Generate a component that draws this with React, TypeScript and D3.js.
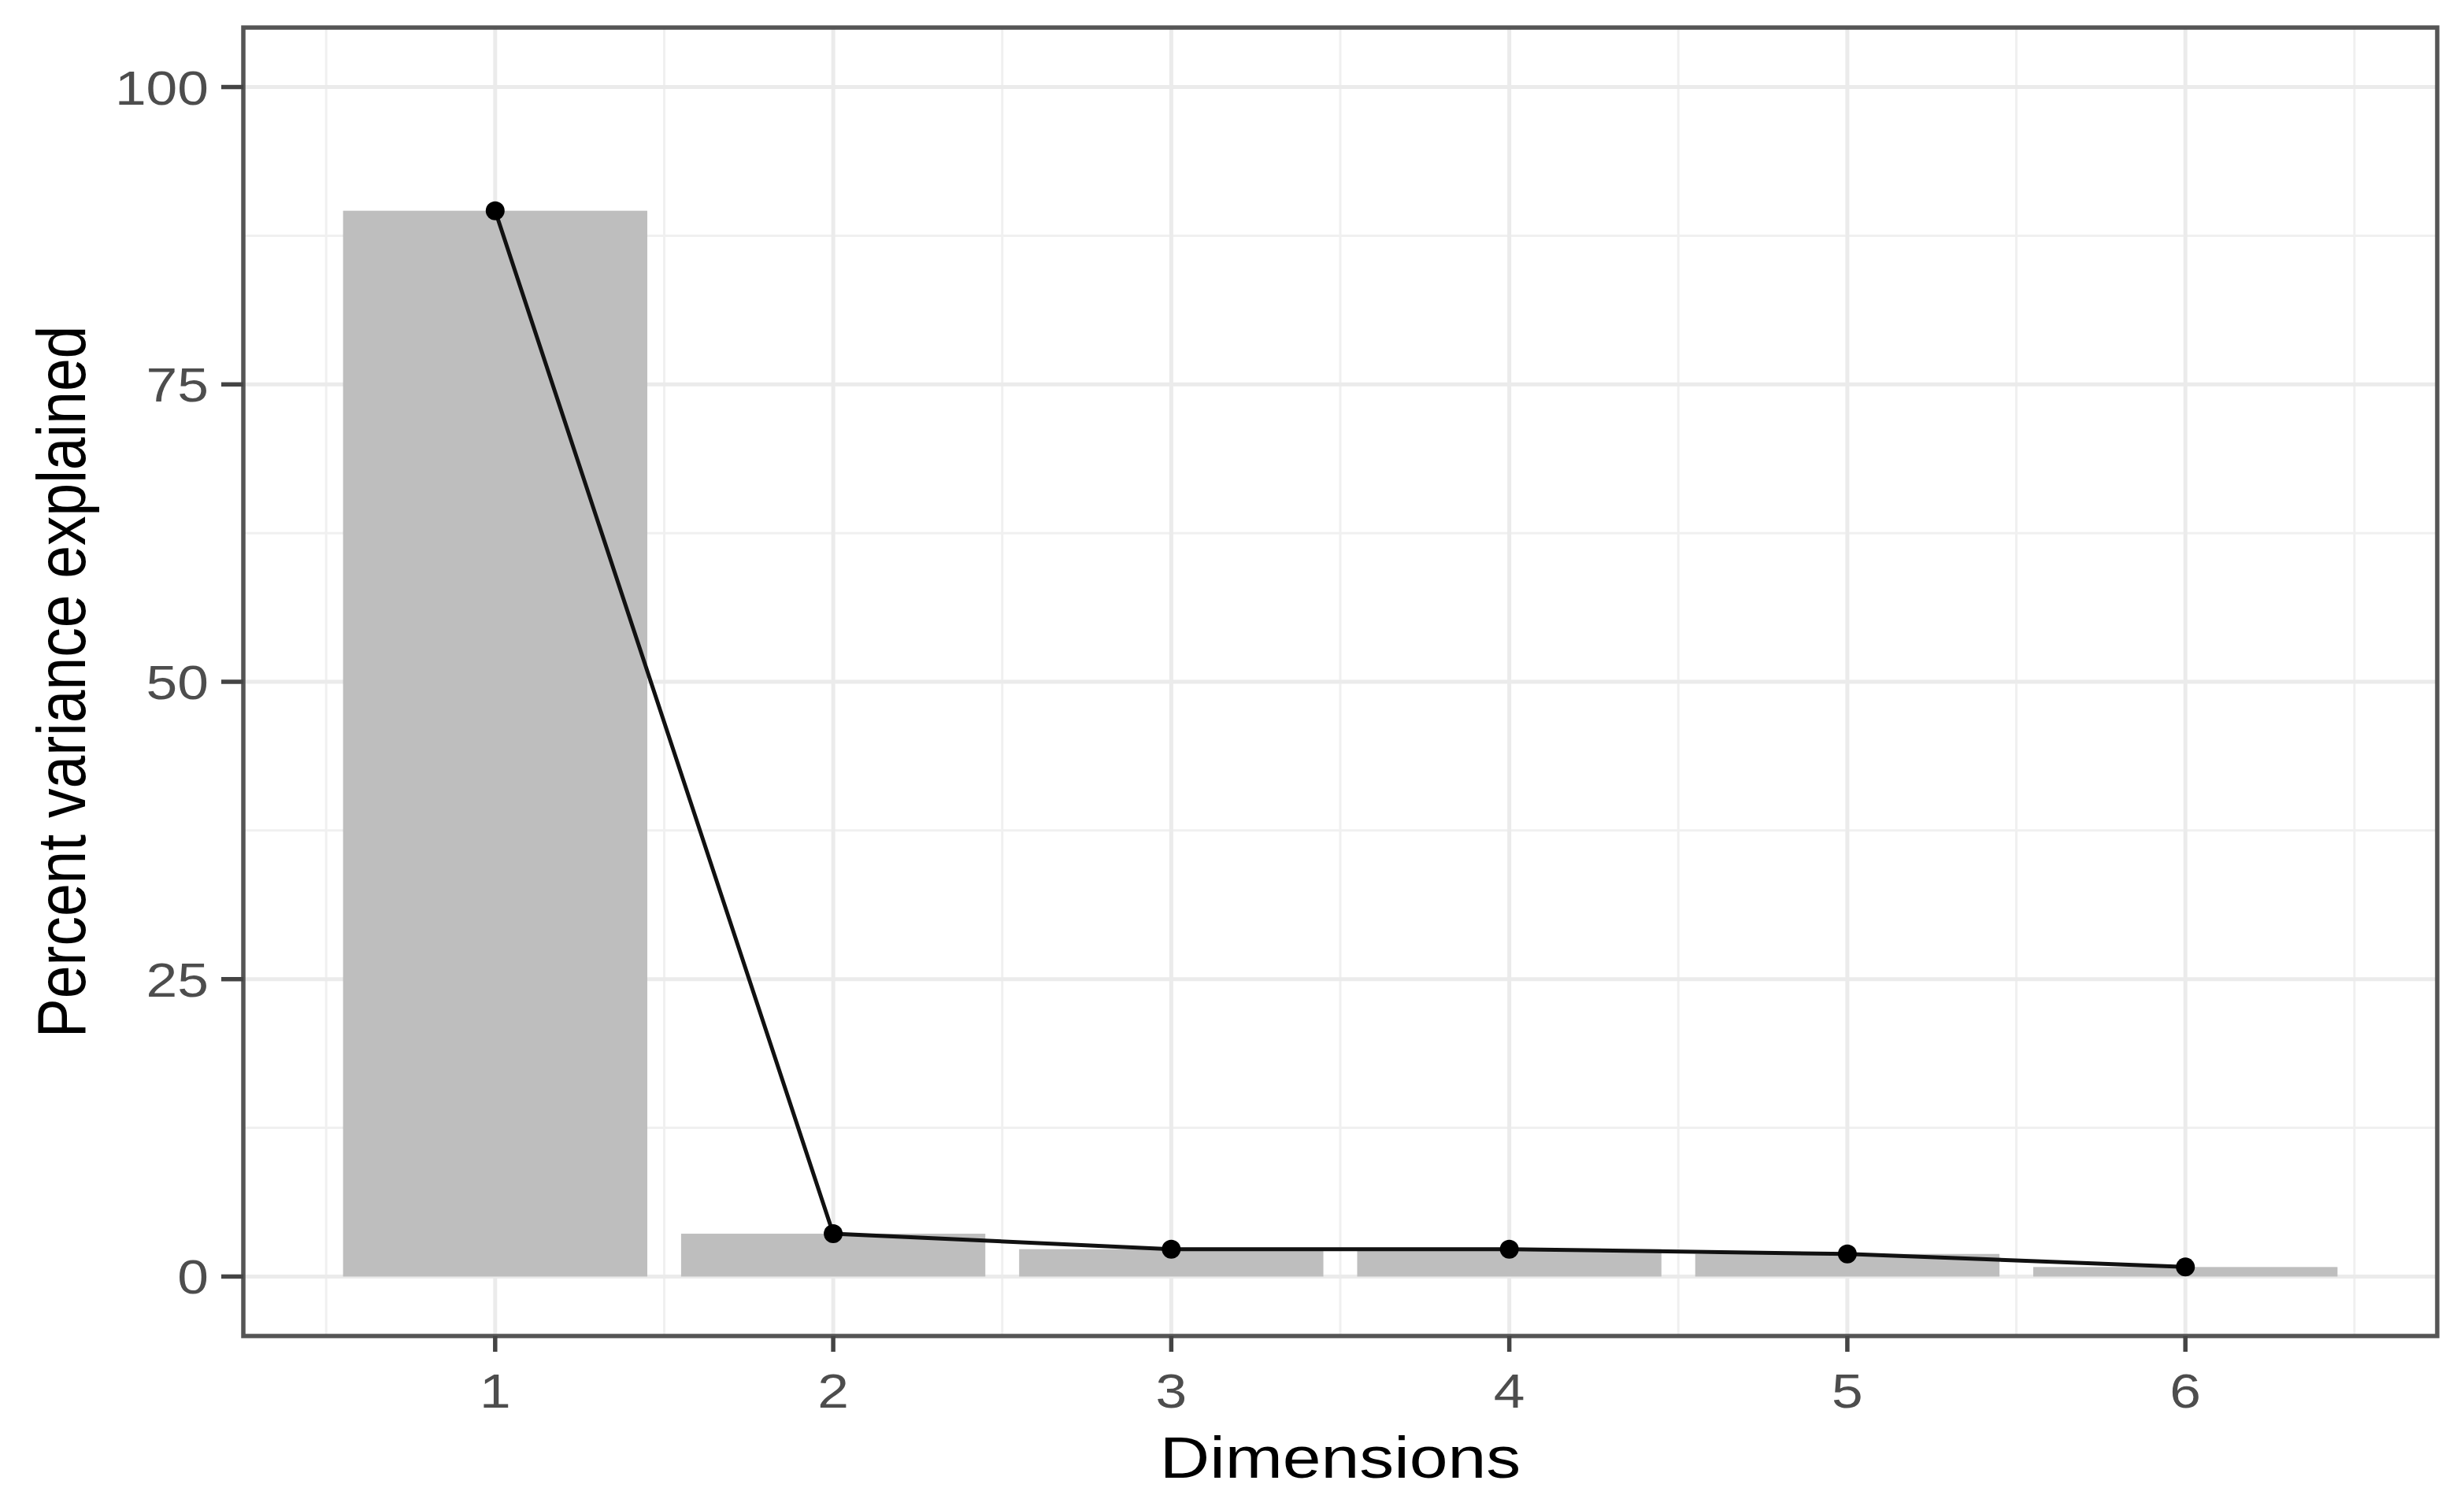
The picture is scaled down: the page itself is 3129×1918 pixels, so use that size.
import * as d3 from "d3";

// scree plot data
const dims = [1, 2, 3, 4, 5, 6];
const variance = [89.6, 3.6, 2.3, 2.3, 1.9, 0.8];
const yTicks = [0, 25, 50, 75, 100];
const yMinor = [12.5, 37.5, 62.5, 87.5];
const xMinor = [0.5, 1.5, 2.5, 3.5, 4.5, 5.5, 6.5];

const W = 3129;
const H = 1918;
const margin = { top: 35, right: 34, bottom: 221, left: 309 };
const stretch = 1.17; // the source text is a bit wide
const font = "'Liberation Sans', Arial, sans-serif";

const App = () => {
  const pw = W - margin.left - margin.right;
  const ph = H - margin.top - margin.bottom;

  const x = d3.scaleLinear().domain([0.255, 6.745]).range([0, pw]);
  const y = d3.scaleLinear().domain([-5, 105]).range([ph, 0]);

  const line = d3
    .line<number>()
    .x((_, i) => x(dims[i]))
    .y((d) => y(d));

  const barW = x(0.9) - x(0);

  return (
    <svg
      width={W}
      height={H}
      style={{ position: "absolute", left: 0, top: 0, background: "#fff" }}
      fontFamily={font}
    >
      <g transform={`translate(${margin.left},${margin.top})`}>
        {/* minor grid */}
        {yMinor.map((v) => (
          <line key={"ym" + v} x1={0} x2={pw} y1={y(v)} y2={y(v)} stroke="#F0F0F0" strokeWidth={3} />
        ))}
        {xMinor.map((v) => (
          <line key={"xm" + v} x1={x(v)} x2={x(v)} y1={0} y2={ph} stroke="#F0F0F0" strokeWidth={3} />
        ))}
        {/* major grid */}
        {yTicks.map((v) => (
          <line key={"yM" + v} x1={0} x2={pw} y1={y(v)} y2={y(v)} stroke="#EBEBEB" strokeWidth={5} />
        ))}
        {dims.map((v) => (
          <line key={"xM" + v} x1={x(v)} x2={x(v)} y1={0} y2={ph} stroke="#EBEBEB" strokeWidth={5} />
        ))}

        {/* bars */}
        {variance.map((v, i) => (
          <rect
            key={"b" + i}
            x={x(dims[i]) - barW / 2}
            y={y(v)}
            width={barW}
            height={y(0) - y(v)}
            fill="#BEBEBE"
          />
        ))}

        {/* line + points */}
        <path d={line(variance) ?? ""} fill="none" stroke="#111" strokeWidth={5} />
        {variance.map((v, i) => (
          <circle key={"p" + i} cx={x(dims[i])} cy={y(v)} r={12} fill="#000" />
        ))}

        {/* panel border */}
        <rect x={0} y={0} width={pw} height={ph} fill="none" stroke="#555" strokeWidth={5.5} />

        {/* y axis */}
        {yTicks.map((v) => (
          <g key={"yt" + v} transform={`translate(0,${y(v)})`}>
            <line x1={-28} x2={0} stroke="#444" strokeWidth={5.5} />
            <text
              transform={`translate(-44,0) scale(${stretch},1)`}
              textAnchor="end"
              dy="0.36em"
              fontSize={61}
              fill="#4D4D4D"
            >
              {v}
            </text>
          </g>
        ))}

        {/* x axis */}
        {dims.map((v) => (
          <g key={"xt" + v} transform={`translate(${x(v)},${ph})`}>
            <line y1={0} y2={20} stroke="#444" strokeWidth={5.5} />
            <text
              transform={`translate(0,91) scale(${stretch},1)`}
              textAnchor="middle"
              fontSize={61}
              fill="#4D4D4D"
            >
              {v}
            </text>
          </g>
        ))}

        {/* axis titles */}
        <text
          transform={`translate(${pw / 2},${ph + 180}) scale(${stretch},1)`}
          textAnchor="middle"
          fontSize={75}
          fill="#000"
        >
          Dimensions
        </text>
        <text
          transform={`translate(${-margin.left + 108},${ph / 2}) scale(${stretch},1) rotate(-90)`}
          textAnchor="middle"
          fontSize={75}
          fill="#000"
        >
          Percent variance explained
        </text>
      </g>
    </svg>
  );
};

export default App;
